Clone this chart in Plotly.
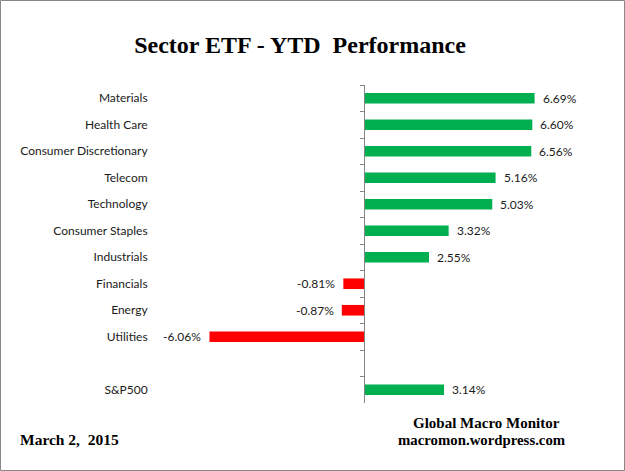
import plotly.graph_objects as go

categories = ["Materials", "Health Care", "Consumer Discretionary", "Telecom", "Technology",
              "Consumer Staples", "Industrials", "Financials", "Energy", "Utilities", " ", "S&P500"]
values = [6.69, 6.60, 6.56, 5.16, 5.03, 3.32, 2.55, -0.81, -0.87, -6.06, None, 3.14]
labels = ["6.69%", "6.60%", "6.56%", "5.16%", "5.03%", "3.32%", "2.55%",
          "-0.81%", "-0.87%", "-6.06%", "", "3.14%"]

W, H = 625, 471
L, R, T, B = 160, 25, 85, 68
PW, PH = W - L - R, H - T - B

def px_x(x):
    return (x - L) / PW

def px_y(y):
    return 1 - (y - T) / PH

colors = ["#00B050" if (v is not None and v >= 0) else "#FF0000" for v in values]

fig = go.Figure(go.Bar(
    y=categories, x=values, orientation="h",
    marker=dict(color=colors, line=dict(width=0)),
    width=0.4, hoverinfo="skip",
))

sans = "Lato, Carlito, sans-serif"
anns = []
for c, v, t in zip(categories, values, labels):
    if v is None:
        continue
    anns.append(dict(x=v, y=c, xref="x", yref="y", text=t, showarrow=False,
                     xanchor="left" if v >= 0 else "right",
                     xshift=6 if v >= 0 else -6,
                     font=dict(family=sans, size=12, color="#1a1a1a")))

serif = "Liberation Serif, Times New Roman, serif"
anns += [
    dict(x=px_x(18), y=px_y(439), xref="paper", yref="paper", text="<b>March 2,  2015</b>",
         showarrow=False, xanchor="left", yanchor="middle",
         font=dict(family=serif, size=15.5, color="#000000")),
    dict(x=px_x(486), y=px_y(423), xref="paper", yref="paper", text="<b>Global Macro Monitor</b>",
         showarrow=False, xanchor="center", yanchor="middle",
         font=dict(family=serif, size=15, color="#000000")),
    dict(x=px_x(482), y=px_y(440), xref="paper", yref="paper", text="<b>macromon.wordpress.com</b>",
         showarrow=False, xanchor="center", yanchor="middle",
         font=dict(family=serif, size=14.8, color="#000000")),
]

fig.update_layout(
    width=W, height=H,
    margin=dict(l=L, r=R, t=T, b=B),
    paper_bgcolor="white", plot_bgcolor="white",
    showlegend=False,
    title=dict(text="<b>Sector ETF - YTD  Performance</b>", x=300 / W, xanchor="center",
               y=1 - 45 / H, yanchor="middle",
               font=dict(family=serif, size=24, color="#000000")),
    xaxis=dict(range=[-8.0, 9.255], showgrid=False, zeroline=False, showticklabels=False,
               showline=False, ticks=""),
    yaxis=dict(categoryorder="array", categoryarray=categories, range=[11.5, -0.5],
               anchor="free", position=px_x(364), showline=True, linecolor="#868686",
               linewidth=1, ticks="outside", ticklen=4, tickcolor="#868686",
               tickson="boundaries", showgrid=False, zeroline=False,
               ticklabelstandoff=214,
               tickfont=dict(family=sans, size=12, color="#1a1a1a")),
    annotations=anns,
    shapes=[dict(type="rect", xref="paper", yref="paper",
                 x0=px_x(0.5), x1=px_x(W - 0.5), y0=px_y(0.5), y1=px_y(H - 0.5),
                 line=dict(color="#888888", width=1), layer="above")],
)

fig.write_html("out.html", config={"displayModeBar": False},
               post_script="document.body.style.margin='0';document.body.style.overflow='hidden';")
